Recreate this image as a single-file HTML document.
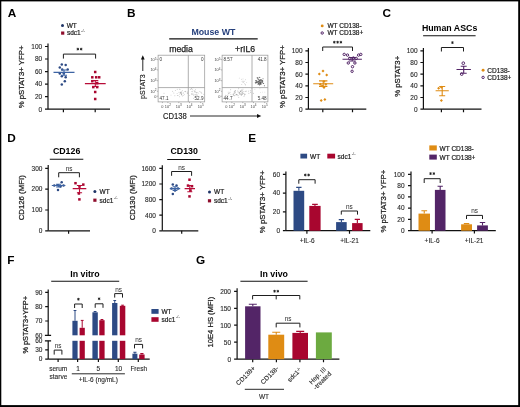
<!DOCTYPE html>
<html><head><meta charset="utf-8">
<style>
html,body{margin:0;padding:0;background:#fff;}
svg{display:block;will-change:transform;}
text{font-family:"Liberation Sans",sans-serif;fill:#1c1c1c;}
.t{font-size:6.5px;fill:#2a2a2a;stroke:#2a2a2a;stroke-width:0.12px;}
.st{font-size:8.4px;fill:#1a1a1a;}
.ns{font-size:6.4px;fill:#2a2a2a;}
.lg{font-size:6.5px;stroke:#1c1c1c;stroke-width:0.2px;}
.lab{font-size:7.8px;stroke:#1c1c1c;stroke-width:0.25px;}
.sup{font-size:4px;fill:#333;}
.pl{font-size:11.8px;font-weight:bold;fill:#000;}
.tt{font-size:8.8px;font-weight:bold;fill:#000;}
.ft{font-size:4.6px;fill:#333;}
.fx{font-size:3.9px;fill:#444;}
.ax{stroke:#111;stroke-width:1.2;fill:none;}
.br{stroke:#1e1e1e;stroke-width:1;fill:none;}
.fb{stroke:#9a9a9a;stroke-width:0.75;fill:none;}
</style></head><body>
<svg width="520" height="407" viewBox="0 0 520 407">
<rect x="0" y="0" width="520" height="407" fill="#000"/>
<rect x="1.3" y="1.4" width="516.9" height="403.7" fill="#fff"/>

<text class="pl" x="7.7" y="17.4">A</text>
<circle cx="62.5" cy="25.6" r="1.5" fill="#1f3466"/>
<text class="lg" x="66.7" y="27.7">WT</text>
<rect x="61.1" y="31.5" width="3.2" height="3.2" fill="#8e0d2c"/>
<text class="lg" x="66.9" y="35">sdc1</text>
<text class="sup" x="81.1" y="31.7">-/-</text>
<path class="ax" d="M48,43.6V109.2"/>
<path class="ax" d="M45,46.5H48M45,59H48M45,71.6H48M45,84.1H48M45,96.7H48M45,109.2H48"/>
<text class="t" x="42.2" y="48.80" text-anchor="end">100</text>
<text class="t" x="42.2" y="61.30" text-anchor="end">80</text>
<text class="t" x="42.2" y="73.90" text-anchor="end">60</text>
<text class="t" x="42.2" y="86.40" text-anchor="end">40</text>
<text class="t" x="42.2" y="99.00" text-anchor="end">20</text>
<text class="t" x="42.2" y="111.50" text-anchor="end">0</text>
<path class="ax" d="M48,109.2H110"/>
<path class="ax" d="M63.4,109.2V112.2M95.2,109.2V112.2"/>
<text class="lab" style="font-size:7.8px" transform="translate(24.33,76.9) rotate(-90)" text-anchor="middle">% pSTAT3+ YFP+</text>
<path class="br" d="M63.4,58.6V54.1H95.6V58.6"/>
<path d="M77.85,47.75V50.45M76.68,48.43L79.02,49.77M76.68,49.77L79.02,48.43M81.15,47.75V50.45M79.98,48.43L82.32,49.77M79.98,49.77L82.32,48.43" stroke="#1a1a1a" stroke-width="0.85" fill="none"/>
<circle cx="61.8" cy="64.5" r="1.25" fill="#2d4a84"/>
<circle cx="65.7" cy="64.9" r="1.25" fill="#2d4a84"/>
<circle cx="59.8" cy="67.5" r="1.25" fill="#2d4a84"/>
<circle cx="62.2" cy="69.4" r="1.25" fill="#2d4a84"/>
<circle cx="67.7" cy="69.4" r="1.25" fill="#2d4a84"/>
<circle cx="59.8" cy="73.4" r="1.25" fill="#2d4a84"/>
<circle cx="63.8" cy="73.4" r="1.25" fill="#2d4a84"/>
<circle cx="61.8" cy="76.3" r="1.25" fill="#2d4a84"/>
<circle cx="65.7" cy="77.3" r="1.25" fill="#2d4a84"/>
<circle cx="64.8" cy="81.2" r="1.25" fill="#2d4a84"/>
<circle cx="61.8" cy="84.6" r="1.25" fill="#2d4a84"/>
<path d="M53.5,72.4H74.5M64,70V75.3M61,70H67M61,75.3H67" stroke="#3d64a4" stroke-width="1.1" fill="none"/>
<rect x="93.95" y="70.75" width="2.5" height="2.5" fill="#a8062f"/>
<rect x="91.05" y="76.05" width="2.5" height="2.5" fill="#a8062f"/>
<rect x="94.95" y="76.05" width="2.5" height="2.5" fill="#a8062f"/>
<rect x="97.95" y="76.05" width="2.5" height="2.5" fill="#a8062f"/>
<rect x="91.05" y="79.95" width="2.5" height="2.5" fill="#a8062f"/>
<rect x="95.95" y="81.95" width="2.5" height="2.5" fill="#a8062f"/>
<rect x="92.05" y="85.85" width="2.5" height="2.5" fill="#a8062f"/>
<rect x="95.95" y="85.85" width="2.5" height="2.5" fill="#a8062f"/>
<rect x="93.95" y="90.75" width="2.5" height="2.5" fill="#a8062f"/>
<rect x="93.95" y="97.75" width="2.5" height="2.5" fill="#a8062f"/>
<path d="M84.89999999999999,83.6H105.7M95.3,80.6V86.5M92.3,80.6H98.3M92.3,86.5H98.3" stroke="#b80c38" stroke-width="1.1" fill="none"/>
<text class="pl" x="126.9" y="17.4">B</text>
<text class="tt" x="213.4" y="34.9" text-anchor="middle" style="fill:#26407c">Mouse WT</text>
<path d="M169.2,38.9H257.7" stroke="#111" stroke-width="1.1"/>
<text class="lab" x="181" y="51.6" text-anchor="middle" style="font-size:8.7px">media</text>
<text class="lab" x="245.1" y="51.6" text-anchor="middle" style="font-size:8.7px">+rIL6</text>
<rect x="158.1" y="55.2" width="46.60" height="46.70" class="fb"/>
<path d="M188.3,55.2V101.9M158.1,87.6H204.7" stroke="#9a9a9a" stroke-width="0.8"/>
<text class="fx" x="156.50" y="61.00" text-anchor="end">10<tspan dy='-1.4' style='font-size:3.1px'>5</tspan></text>
<path d="M156.90,59.6H158.1" stroke="#777" stroke-width="0.5"/>
<text class="fx" x="156.50" y="71.30" text-anchor="end">10<tspan dy='-1.4' style='font-size:3.1px'>4</tspan></text>
<path d="M156.90,69.9H158.1" stroke="#777" stroke-width="0.5"/>
<text class="fx" x="156.50" y="82.10" text-anchor="end">10<tspan dy='-1.4' style='font-size:3.1px'>3</tspan></text>
<path d="M156.90,80.7H158.1" stroke="#777" stroke-width="0.5"/>
<text class="fx" x="156.50" y="92.70" text-anchor="end">10<tspan dy='-1.4' style='font-size:3.1px'>2</tspan></text>
<path d="M156.90,91.3H158.1" stroke="#777" stroke-width="0.5"/>
<text class="fx" x="156.50" y="97.60" text-anchor="end">0</text>
<path d="M156.90,96.2H158.1" stroke="#777" stroke-width="0.5"/>
<text class="fx" x="162.40" y="107.6" text-anchor="middle">0</text>
<path d="M162.40,101.9V103.10" stroke="#777" stroke-width="0.5"/>
<text class="fx" x="167.90" y="107.6" text-anchor="middle">10<tspan dy='-1.4' style='font-size:3.1px'>2</tspan></text>
<path d="M167.90,101.9V103.10" stroke="#777" stroke-width="0.5"/>
<text class="fx" x="178.80" y="107.6" text-anchor="middle">10<tspan dy='-1.4' style='font-size:3.1px'>3</tspan></text>
<path d="M178.80,101.9V103.10" stroke="#777" stroke-width="0.5"/>
<text class="fx" x="189.50" y="107.6" text-anchor="middle">10<tspan dy='-1.4' style='font-size:3.1px'>4</tspan></text>
<path d="M189.50,101.9V103.10" stroke="#777" stroke-width="0.5"/>
<text class="fx" x="200.70" y="107.6" text-anchor="middle">10<tspan dy='-1.4' style='font-size:3.1px'>5</tspan></text>
<path d="M200.70,101.9V103.10" stroke="#777" stroke-width="0.5"/>
<text class="ft" x="159.50" y="60.80">0</text>
<text class="ft" x="203.50" y="60.80" text-anchor="end">0</text>
<text class="ft" x="159.50" y="100.40">47.1</text>
<text class="ft" x="203.50" y="100.40" text-anchor="end">52.9</text>
<rect x="222.1" y="55.2" width="45.80" height="46.70" class="fb"/>
<path d="M252.0,55.2V101.9M222.1,87.6H267.9" stroke="#9a9a9a" stroke-width="0.8"/>
<text class="fx" x="220.50" y="61.00" text-anchor="end">10<tspan dy='-1.4' style='font-size:3.1px'>5</tspan></text>
<path d="M220.90,59.6H222.1" stroke="#777" stroke-width="0.5"/>
<text class="fx" x="220.50" y="71.30" text-anchor="end">10<tspan dy='-1.4' style='font-size:3.1px'>4</tspan></text>
<path d="M220.90,69.9H222.1" stroke="#777" stroke-width="0.5"/>
<text class="fx" x="220.50" y="82.10" text-anchor="end">10<tspan dy='-1.4' style='font-size:3.1px'>3</tspan></text>
<path d="M220.90,80.7H222.1" stroke="#777" stroke-width="0.5"/>
<text class="fx" x="220.50" y="92.70" text-anchor="end">10<tspan dy='-1.4' style='font-size:3.1px'>2</tspan></text>
<path d="M220.90,91.3H222.1" stroke="#777" stroke-width="0.5"/>
<text class="fx" x="220.50" y="97.60" text-anchor="end">0</text>
<path d="M220.90,96.2H222.1" stroke="#777" stroke-width="0.5"/>
<text class="fx" x="226.40" y="107.6" text-anchor="middle">0</text>
<path d="M226.40,101.9V103.10" stroke="#777" stroke-width="0.5"/>
<text class="fx" x="231.90" y="107.6" text-anchor="middle">10<tspan dy='-1.4' style='font-size:3.1px'>2</tspan></text>
<path d="M231.90,101.9V103.10" stroke="#777" stroke-width="0.5"/>
<text class="fx" x="242.80" y="107.6" text-anchor="middle">10<tspan dy='-1.4' style='font-size:3.1px'>3</tspan></text>
<path d="M242.80,101.9V103.10" stroke="#777" stroke-width="0.5"/>
<text class="fx" x="253.50" y="107.6" text-anchor="middle">10<tspan dy='-1.4' style='font-size:3.1px'>4</tspan></text>
<path d="M253.50,101.9V103.10" stroke="#777" stroke-width="0.5"/>
<text class="fx" x="264.70" y="107.6" text-anchor="middle">10<tspan dy='-1.4' style='font-size:3.1px'>5</tspan></text>
<path d="M264.70,101.9V103.10" stroke="#777" stroke-width="0.5"/>
<text class="ft" x="223.50" y="60.80">8.57</text>
<text class="ft" x="266.70" y="60.80" text-anchor="end">41.8</text>
<text class="ft" x="223.50" y="100.40">44.7</text>
<text class="ft" x="266.70" y="100.40" text-anchor="end">5.48</text>
<circle cx="182.5" cy="96.0" r="0.45" fill="#999" opacity="0.8"/>
<circle cx="177.3" cy="95.5" r="0.45" fill="#999" opacity="0.8"/>
<circle cx="180.7" cy="93.0" r="0.45" fill="#999" opacity="0.8"/>
<circle cx="191.5" cy="93.8" r="0.45" fill="#999" opacity="0.8"/>
<circle cx="181.8" cy="95.0" r="0.45" fill="#999" opacity="0.8"/>
<circle cx="187.6" cy="93.4" r="0.45" fill="#999" opacity="0.8"/>
<circle cx="184.9" cy="91.6" r="0.45" fill="#999" opacity="0.8"/>
<circle cx="180.2" cy="92.6" r="0.45" fill="#999" opacity="0.8"/>
<circle cx="175.3" cy="90.5" r="0.45" fill="#999" opacity="0.8"/>
<circle cx="173.9" cy="93.0" r="0.45" fill="#999" opacity="0.8"/>
<circle cx="181.1" cy="92.9" r="0.45" fill="#999" opacity="0.8"/>
<circle cx="182.3" cy="90.8" r="0.45" fill="#999" opacity="0.8"/>
<circle cx="181.6" cy="94.0" r="0.45" fill="#999" opacity="0.8"/>
<circle cx="185.8" cy="91.8" r="0.45" fill="#999" opacity="0.8"/>
<circle cx="180.0" cy="89.5" r="0.45" fill="#999" opacity="0.8"/>
<circle cx="179.5" cy="89.1" r="0.45" fill="#999" opacity="0.8"/>
<circle cx="174.9" cy="95.7" r="0.45" fill="#999" opacity="0.8"/>
<circle cx="171.0" cy="95.1" r="0.45" fill="#999" opacity="0.8"/>
<circle cx="183.6" cy="92.9" r="0.45" fill="#999" opacity="0.8"/>
<circle cx="184.3" cy="94.6" r="0.45" fill="#999" opacity="0.8"/>
<circle cx="187.2" cy="93.0" r="0.45" fill="#999" opacity="0.8"/>
<circle cx="179.0" cy="92.3" r="0.45" fill="#999" opacity="0.8"/>
<circle cx="177.1" cy="93.4" r="0.45" fill="#999" opacity="0.8"/>
<circle cx="178.1" cy="95.6" r="0.45" fill="#999" opacity="0.8"/>
<circle cx="172.7" cy="91.3" r="0.45" fill="#999" opacity="0.8"/>
<circle cx="177.2" cy="89.3" r="0.45" fill="#999" opacity="0.8"/>
<circle cx="191.5" cy="88.7" r="0.45" fill="#999" opacity="0.8"/>
<circle cx="180.6" cy="92.4" r="0.45" fill="#999" opacity="0.8"/>
<circle cx="190.3" cy="89.5" r="0.45" fill="#999" opacity="0.8"/>
<circle cx="187.4" cy="92.0" r="0.45" fill="#999" opacity="0.8"/>
<circle cx="181.2" cy="92.2" r="0.45" fill="#999" opacity="0.8"/>
<circle cx="185.2" cy="91.2" r="0.45" fill="#999" opacity="0.8"/>
<circle cx="181.6" cy="94.2" r="0.45" fill="#999" opacity="0.8"/>
<circle cx="191.2" cy="88.7" r="0.45" fill="#999" opacity="0.8"/>
<circle cx="189.6" cy="95.4" r="0.45" fill="#999" opacity="0.8"/>
<circle cx="179.6" cy="94.1" r="0.45" fill="#999" opacity="0.8"/>
<circle cx="179.7" cy="96.8" r="0.45" fill="#999" opacity="0.8"/>
<circle cx="183.0" cy="93.1" r="0.45" fill="#999" opacity="0.8"/>
<circle cx="180.9" cy="93.1" r="0.45" fill="#999" opacity="0.8"/>
<circle cx="181.1" cy="91.7" r="0.45" fill="#999" opacity="0.8"/>
<circle cx="192.3" cy="89.7" r="0.45" fill="#999" opacity="0.8"/>
<circle cx="164.0" cy="93.3" r="0.45" fill="#999" opacity="0.8"/>
<circle cx="181.3" cy="94.2" r="0.45" fill="#999" opacity="0.8"/>
<circle cx="181.0" cy="93.2" r="0.45" fill="#999" opacity="0.8"/>
<circle cx="183.7" cy="95.4" r="0.45" fill="#999" opacity="0.8"/>
<circle cx="195.4" cy="92.1" r="0.45" fill="#999" opacity="0.8"/>
<circle cx="203.8" cy="94.2" r="0.45" fill="#999" opacity="0.8"/>
<circle cx="193.6" cy="98.3" r="0.45" fill="#999" opacity="0.8"/>
<circle cx="199.7" cy="91.6" r="0.45" fill="#999" opacity="0.8"/>
<circle cx="192.9" cy="93.7" r="0.45" fill="#999" opacity="0.8"/>
<circle cx="194.1" cy="90.6" r="0.45" fill="#999" opacity="0.8"/>
<circle cx="192.5" cy="91.8" r="0.45" fill="#999" opacity="0.8"/>
<circle cx="200.9" cy="92.0" r="0.45" fill="#999" opacity="0.8"/>
<circle cx="191.9" cy="94.5" r="0.45" fill="#999" opacity="0.8"/>
<circle cx="197.2" cy="94.9" r="0.45" fill="#999" opacity="0.8"/>
<circle cx="201.2" cy="92.6" r="0.45" fill="#999" opacity="0.8"/>
<circle cx="196.5" cy="92.9" r="0.45" fill="#999" opacity="0.8"/>
<circle cx="193.0" cy="94.5" r="0.45" fill="#999" opacity="0.8"/>
<circle cx="201.8" cy="93.4" r="0.45" fill="#999" opacity="0.8"/>
<circle cx="196.2" cy="92.4" r="0.45" fill="#999" opacity="0.8"/>
<circle cx="194.3" cy="91.2" r="0.45" fill="#999" opacity="0.8"/>
<circle cx="195.6" cy="91.1" r="0.45" fill="#999" opacity="0.8"/>
<circle cx="195.5" cy="89.4" r="0.45" fill="#999" opacity="0.8"/>
<circle cx="198.2" cy="93.1" r="0.45" fill="#999" opacity="0.8"/>
<circle cx="193.0" cy="87.7" r="0.45" fill="#999" opacity="0.8"/>
<circle cx="197.0" cy="95.5" r="0.45" fill="#999" opacity="0.8"/>
<circle cx="194.4" cy="91.9" r="0.45" fill="#999" opacity="0.8"/>
<circle cx="195.0" cy="94.5" r="0.45" fill="#999" opacity="0.8"/>
<circle cx="193.8" cy="95.3" r="0.45" fill="#999" opacity="0.8"/>
<circle cx="195.9" cy="95.1" r="0.45" fill="#999" opacity="0.8"/>
<circle cx="197.1" cy="92.5" r="0.45" fill="#999" opacity="0.8"/>
<circle cx="191.8" cy="91.4" r="0.45" fill="#999" opacity="0.8"/>
<circle cx="196.1" cy="94.5" r="0.45" fill="#999" opacity="0.8"/>
<circle cx="240.5" cy="91.5" r="0.45" fill="#888" opacity="0.8"/>
<circle cx="241.5" cy="95.2" r="0.45" fill="#888" opacity="0.8"/>
<circle cx="238.1" cy="92.0" r="0.45" fill="#888" opacity="0.8"/>
<circle cx="236.6" cy="94.8" r="0.45" fill="#888" opacity="0.8"/>
<circle cx="242.2" cy="91.0" r="0.45" fill="#888" opacity="0.8"/>
<circle cx="241.2" cy="91.9" r="0.45" fill="#888" opacity="0.8"/>
<circle cx="234.5" cy="95.7" r="0.45" fill="#888" opacity="0.8"/>
<circle cx="243.9" cy="91.4" r="0.45" fill="#888" opacity="0.8"/>
<circle cx="239.5" cy="94.1" r="0.45" fill="#888" opacity="0.8"/>
<circle cx="235.2" cy="92.7" r="0.45" fill="#888" opacity="0.8"/>
<circle cx="243.0" cy="89.1" r="0.45" fill="#888" opacity="0.8"/>
<circle cx="241.0" cy="94.6" r="0.45" fill="#888" opacity="0.8"/>
<circle cx="242.0" cy="90.0" r="0.45" fill="#888" opacity="0.8"/>
<circle cx="240.9" cy="91.1" r="0.45" fill="#888" opacity="0.8"/>
<circle cx="242.4" cy="94.3" r="0.45" fill="#888" opacity="0.8"/>
<circle cx="240.3" cy="91.3" r="0.45" fill="#888" opacity="0.8"/>
<circle cx="235.5" cy="94.9" r="0.45" fill="#888" opacity="0.8"/>
<circle cx="233.6" cy="94.1" r="0.45" fill="#888" opacity="0.8"/>
<circle cx="242.1" cy="92.4" r="0.45" fill="#888" opacity="0.8"/>
<circle cx="253.4" cy="93.2" r="0.45" fill="#888" opacity="0.8"/>
<circle cx="251.9" cy="88.6" r="0.45" fill="#888" opacity="0.8"/>
<circle cx="225.5" cy="95.2" r="0.45" fill="#888" opacity="0.8"/>
<circle cx="242.8" cy="92.3" r="0.45" fill="#888" opacity="0.8"/>
<circle cx="238.7" cy="88.8" r="0.45" fill="#888" opacity="0.8"/>
<circle cx="235.2" cy="90.7" r="0.45" fill="#888" opacity="0.8"/>
<circle cx="237.7" cy="94.9" r="0.45" fill="#888" opacity="0.8"/>
<circle cx="239.3" cy="93.8" r="0.45" fill="#888" opacity="0.8"/>
<circle cx="234.8" cy="92.0" r="0.45" fill="#888" opacity="0.8"/>
<circle cx="239.7" cy="92.4" r="0.45" fill="#888" opacity="0.8"/>
<circle cx="246.6" cy="91.1" r="0.45" fill="#888" opacity="0.8"/>
<circle cx="250.3" cy="90.8" r="0.45" fill="#888" opacity="0.8"/>
<circle cx="245.4" cy="91.3" r="0.45" fill="#888" opacity="0.8"/>
<circle cx="248.9" cy="93.3" r="0.45" fill="#888" opacity="0.8"/>
<circle cx="241.4" cy="94.6" r="0.45" fill="#888" opacity="0.8"/>
<circle cx="235.2" cy="90.7" r="0.45" fill="#888" opacity="0.8"/>
<circle cx="226.8" cy="95.7" r="0.45" fill="#888" opacity="0.8"/>
<circle cx="234.8" cy="91.7" r="0.45" fill="#888" opacity="0.8"/>
<circle cx="238.8" cy="97.4" r="0.45" fill="#888" opacity="0.8"/>
<circle cx="228.6" cy="93.5" r="0.45" fill="#888" opacity="0.8"/>
<circle cx="236.6" cy="94.2" r="0.45" fill="#888" opacity="0.8"/>
<circle cx="228.2" cy="92.1" r="0.45" fill="#888" opacity="0.8"/>
<circle cx="244.0" cy="96.4" r="0.45" fill="#888" opacity="0.8"/>
<circle cx="248.6" cy="91.1" r="0.45" fill="#888" opacity="0.8"/>
<circle cx="239.3" cy="92.8" r="0.45" fill="#888" opacity="0.8"/>
<circle cx="230.7" cy="89.8" r="0.45" fill="#888" opacity="0.8"/>
<circle cx="243.5" cy="93.5" r="0.45" fill="#888" opacity="0.8"/>
<circle cx="238.1" cy="95.7" r="0.45" fill="#888" opacity="0.8"/>
<circle cx="233.0" cy="94.2" r="0.45" fill="#888" opacity="0.8"/>
<circle cx="239.1" cy="92.9" r="0.45" fill="#888" opacity="0.8"/>
<circle cx="241.9" cy="93.4" r="0.45" fill="#888" opacity="0.8"/>
<circle cx="240.6" cy="93.6" r="0.45" fill="#888" opacity="0.8"/>
<circle cx="250.6" cy="92.3" r="0.45" fill="#888" opacity="0.8"/>
<circle cx="245.1" cy="94.3" r="0.45" fill="#888" opacity="0.8"/>
<circle cx="236.9" cy="94.8" r="0.45" fill="#888" opacity="0.8"/>
<circle cx="233.9" cy="95.6" r="0.45" fill="#888" opacity="0.8"/>
<circle cx="234.1" cy="91.9" r="0.45" fill="#888" opacity="0.8"/>
<circle cx="240.9" cy="94.8" r="0.45" fill="#888" opacity="0.8"/>
<circle cx="244.4" cy="95.0" r="0.45" fill="#888" opacity="0.8"/>
<circle cx="237.8" cy="90.9" r="0.45" fill="#888" opacity="0.8"/>
<circle cx="242.3" cy="93.7" r="0.45" fill="#888" opacity="0.8"/>
<circle cx="233.3" cy="95.1" r="0.45" fill="#888" opacity="0.8"/>
<circle cx="240.2" cy="90.9" r="0.45" fill="#888" opacity="0.8"/>
<circle cx="241.6" cy="90.1" r="0.45" fill="#888" opacity="0.8"/>
<circle cx="233.7" cy="93.9" r="0.45" fill="#888" opacity="0.8"/>
<circle cx="229.7" cy="93.1" r="0.45" fill="#888" opacity="0.8"/>
<circle cx="230.9" cy="94.6" r="0.45" fill="#888" opacity="0.8"/>
<circle cx="234.6" cy="93.4" r="0.45" fill="#888" opacity="0.8"/>
<circle cx="230.0" cy="92.2" r="0.45" fill="#888" opacity="0.8"/>
<circle cx="244.7" cy="94.0" r="0.45" fill="#888" opacity="0.8"/>
<circle cx="228.0" cy="95.0" r="0.45" fill="#888" opacity="0.8"/>
<circle cx="244.2" cy="81.2" r="0.45" fill="#aaa" opacity="0.8"/>
<circle cx="245.5" cy="79.7" r="0.45" fill="#aaa" opacity="0.8"/>
<circle cx="241.8" cy="84.5" r="0.45" fill="#aaa" opacity="0.8"/>
<circle cx="245.3" cy="84.8" r="0.45" fill="#aaa" opacity="0.8"/>
<circle cx="239.3" cy="78.1" r="0.45" fill="#aaa" opacity="0.8"/>
<circle cx="243.0" cy="78.9" r="0.45" fill="#aaa" opacity="0.8"/>
<circle cx="241.7" cy="79.2" r="0.45" fill="#aaa" opacity="0.8"/>
<circle cx="244.7" cy="83.8" r="0.45" fill="#aaa" opacity="0.8"/>
<circle cx="243.4" cy="82.0" r="0.45" fill="#aaa" opacity="0.8"/>
<circle cx="242.1" cy="81.3" r="0.45" fill="#aaa" opacity="0.8"/>
<circle cx="243.0" cy="82.5" r="0.45" fill="#aaa" opacity="0.8"/>
<circle cx="243.1" cy="81.1" r="0.45" fill="#aaa" opacity="0.8"/>
<circle cx="246.7" cy="82.6" r="0.45" fill="#aaa" opacity="0.8"/>
<circle cx="245.5" cy="84.9" r="0.45" fill="#aaa" opacity="0.8"/>
<circle cx="257.7" cy="78.7" r="0.5" fill="#444" opacity="0.85"/>
<circle cx="262.8" cy="80.9" r="0.5" fill="#444" opacity="0.85"/>
<circle cx="260.0" cy="81.2" r="0.5" fill="#444" opacity="0.85"/>
<circle cx="260.1" cy="79.6" r="0.5" fill="#444" opacity="0.85"/>
<circle cx="259.6" cy="80.8" r="0.5" fill="#444" opacity="0.85"/>
<circle cx="259.8" cy="77.6" r="0.5" fill="#444" opacity="0.85"/>
<circle cx="261.8" cy="82.2" r="0.5" fill="#444" opacity="0.85"/>
<circle cx="255.7" cy="80.4" r="0.5" fill="#444" opacity="0.85"/>
<circle cx="259.9" cy="82.7" r="0.5" fill="#444" opacity="0.85"/>
<circle cx="259.8" cy="84.0" r="0.5" fill="#444" opacity="0.85"/>
<circle cx="259.9" cy="79.9" r="0.5" fill="#444" opacity="0.85"/>
<circle cx="258.2" cy="82.9" r="0.5" fill="#444" opacity="0.85"/>
<circle cx="258.3" cy="83.0" r="0.5" fill="#444" opacity="0.85"/>
<circle cx="262.2" cy="82.6" r="0.5" fill="#444" opacity="0.85"/>
<circle cx="262.2" cy="81.3" r="0.5" fill="#444" opacity="0.85"/>
<circle cx="259.8" cy="80.6" r="0.5" fill="#444" opacity="0.85"/>
<circle cx="258.3" cy="78.9" r="0.5" fill="#444" opacity="0.85"/>
<circle cx="258.5" cy="79.8" r="0.5" fill="#444" opacity="0.85"/>
<circle cx="256.4" cy="81.8" r="0.5" fill="#444" opacity="0.85"/>
<circle cx="260.9" cy="81.0" r="0.5" fill="#444" opacity="0.85"/>
<circle cx="263.1" cy="83.2" r="0.5" fill="#444" opacity="0.85"/>
<circle cx="262.3" cy="80.6" r="0.5" fill="#444" opacity="0.85"/>
<circle cx="256.2" cy="82.5" r="0.5" fill="#444" opacity="0.85"/>
<circle cx="260.5" cy="82.8" r="0.5" fill="#444" opacity="0.85"/>
<circle cx="260.8" cy="83.7" r="0.5" fill="#444" opacity="0.85"/>
<circle cx="259.1" cy="82.7" r="0.5" fill="#444" opacity="0.85"/>
<circle cx="257.7" cy="77.7" r="0.5" fill="#444" opacity="0.85"/>
<circle cx="258.7" cy="84.1" r="0.5" fill="#444" opacity="0.85"/>
<circle cx="255.8" cy="83.3" r="0.5" fill="#444" opacity="0.85"/>
<circle cx="258.2" cy="80.9" r="0.5" fill="#444" opacity="0.85"/>
<circle cx="259.9" cy="82.0" r="0.5" fill="#444" opacity="0.85"/>
<circle cx="257.5" cy="81.8" r="0.5" fill="#444" opacity="0.85"/>
<circle cx="260.9" cy="83.0" r="0.5" fill="#444" opacity="0.85"/>
<circle cx="258.0" cy="84.2" r="0.5" fill="#444" opacity="0.85"/>
<circle cx="264.4" cy="85.7" r="0.5" fill="#444" opacity="0.85"/>
<circle cx="256.6" cy="81.9" r="0.5" fill="#444" opacity="0.85"/>
<circle cx="255.3" cy="82.2" r="0.5" fill="#444" opacity="0.85"/>
<circle cx="261.1" cy="79.6" r="0.5" fill="#444" opacity="0.85"/>
<circle cx="256.0" cy="81.9" r="0.5" fill="#444" opacity="0.85"/>
<circle cx="261.3" cy="80.3" r="0.5" fill="#444" opacity="0.85"/>
<circle cx="259.2" cy="77.3" r="0.5" fill="#444" opacity="0.85"/>
<circle cx="258.1" cy="81.8" r="0.5" fill="#444" opacity="0.85"/>
<circle cx="260.2" cy="84.3" r="0.5" fill="#444" opacity="0.85"/>
<circle cx="257.1" cy="77.8" r="0.5" fill="#444" opacity="0.85"/>
<circle cx="260.9" cy="80.6" r="0.5" fill="#444" opacity="0.85"/>
<circle cx="260.5" cy="82.8" r="0.5" fill="#444" opacity="0.85"/>
<circle cx="261.2" cy="84.1" r="0.5" fill="#444" opacity="0.85"/>
<circle cx="263.0" cy="78.8" r="0.5" fill="#444" opacity="0.85"/>
<circle cx="259.6" cy="85.0" r="0.5" fill="#444" opacity="0.85"/>
<circle cx="258.8" cy="83.2" r="0.5" fill="#444" opacity="0.85"/>
<circle cx="259.7" cy="80.9" r="0.5" fill="#444" opacity="0.85"/>
<circle cx="263.6" cy="83.4" r="0.5" fill="#444" opacity="0.85"/>
<circle cx="259.2" cy="83.1" r="0.5" fill="#444" opacity="0.85"/>
<circle cx="256.6" cy="80.4" r="0.5" fill="#444" opacity="0.85"/>
<circle cx="262.0" cy="81.7" r="0.5" fill="#444" opacity="0.85"/>
<circle cx="257.3" cy="82.4" r="0.5" fill="#444" opacity="0.85"/>
<circle cx="260.6" cy="83.8" r="0.5" fill="#444" opacity="0.85"/>
<circle cx="262.1" cy="81.1" r="0.5" fill="#444" opacity="0.85"/>
<circle cx="258.6" cy="81.4" r="0.5" fill="#444" opacity="0.85"/>
<circle cx="259.2" cy="84.1" r="0.5" fill="#444" opacity="0.85"/>
<circle cx="265.4" cy="96.4" r="0.45" fill="#bbb" opacity="0.8"/>
<circle cx="260.5" cy="92.4" r="0.45" fill="#bbb" opacity="0.8"/>
<circle cx="262.6" cy="92.1" r="0.45" fill="#bbb" opacity="0.8"/>
<circle cx="259.9" cy="88.8" r="0.45" fill="#bbb" opacity="0.8"/>
<circle cx="257.3" cy="96.6" r="0.45" fill="#bbb" opacity="0.8"/>
<circle cx="254.9" cy="89.3" r="0.45" fill="#bbb" opacity="0.8"/>
<circle cx="258.3" cy="97.2" r="0.45" fill="#bbb" opacity="0.8"/>
<circle cx="264.8" cy="92.1" r="0.45" fill="#bbb" opacity="0.8"/>
<text class="lab" transform="translate(144.9,86.6) rotate(-90)" text-anchor="middle" style="font-size:6.8px;fill:#222;stroke:#222;stroke-width:0.15" textLength="24.6" lengthAdjust="spacingAndGlyphs">pSTAT3</text>
<path d="M142.8,71V57" stroke="#111" stroke-width="0.9"/><path d="M140.9,59.5L142.8,55.3L144.7,59.5Z" fill="#111"/>
<text class="lab" x="174.8" y="118.5" text-anchor="middle" style="font-size:8.2px;fill:#222;stroke:#222;stroke-width:0.15" textLength="23.8" lengthAdjust="spacingAndGlyphs">CD138</text>
<path d="M190,116H258" stroke="#111" stroke-width="0.9"/><path d="M257,114.1L261.3,116L257,117.9Z" fill="#111"/>
<path class="ax" d="M308.4,48.1V109.2"/>
<path class="ax" d="M305.4,50.8H308.4M305.4,62.5H308.4M305.4,74.2H308.4M305.4,85.8H308.4M305.4,97.5H308.4M305.4,109.2H308.4"/>
<text class="t" x="302.59999999999997" y="53.10" text-anchor="end">100</text>
<text class="t" x="302.59999999999997" y="64.80" text-anchor="end">80</text>
<text class="t" x="302.59999999999997" y="76.50" text-anchor="end">60</text>
<text class="t" x="302.59999999999997" y="88.10" text-anchor="end">40</text>
<text class="t" x="302.59999999999997" y="99.80" text-anchor="end">20</text>
<text class="t" x="302.59999999999997" y="111.50" text-anchor="end">0</text>
<path class="ax" d="M308.4,109.2H366.3"/>
<path class="ax" d="M322.8,109.2V112.2M352.5,109.2V112.2"/>
<text class="lab" style="font-size:7.8px" transform="translate(284.93,76.6) rotate(-90)" text-anchor="middle">% pSTAT3+ YFP+</text>
<circle cx="322.2" cy="25.9" r="1.45" fill="#df8c14"/>
<text class="lg" x="327.4" y="28.2">WT CD138-</text>
<circle cx="322.2" cy="33" r="1.2" fill="none" stroke="#532567" stroke-width="1"/>
<text class="lg" x="327.4" y="35.1">WT CD138+</text>
<path class="br" d="M322.7,51V47H352.5V51"/>
<path d="M334.30,40.85V43.55M333.13,41.53L335.47,42.88M333.13,42.88L335.47,41.53M337.60,40.85V43.55M336.43,41.53L338.77,42.88M336.43,42.88L338.77,41.53M340.90,40.85V43.55M339.73,41.53L342.07,42.88M339.73,42.88L342.07,41.53" stroke="#1a1a1a" stroke-width="0.85" fill="none"/>
<path d="M323,69.5L324.5,71L323,72.5L321.5,71Z" fill="#df8c14"/>
<path d="M319.3,72.6L320.8,74.1L319.3,75.6L317.8,74.1Z" fill="#df8c14"/>
<path d="M326.7,73.5L328.2,75L326.7,76.5L325.2,75Z" fill="#df8c14"/>
<path d="M324,79.9L325.5,81.4L324,82.9L322.5,81.4Z" fill="#df8c14"/>
<path d="M320.3,82.7L321.8,84.2L320.3,85.7L318.8,84.2Z" fill="#df8c14"/>
<path d="M325.8,82.7L327.3,84.2L325.8,85.7L324.3,84.2Z" fill="#df8c14"/>
<path d="M322.1,84.5L323.6,86L322.1,87.5L320.6,86Z" fill="#df8c14"/>
<path d="M324,86.0L325.5,87.5L324,89.0L322.5,87.5Z" fill="#df8c14"/>
<path d="M321.2,98.9L322.7,100.4L321.2,101.9L319.7,100.4Z" fill="#df8c14"/>
<path d="M324.9,98.0L326.4,99.5L324.9,101.0L323.4,99.5Z" fill="#df8c14"/>
<path d="M313.2,83.8H333.2M323.2,80.9V86.4M319.0,80.9H327.4M319.0,86.4H327.4" stroke="#df8c14" stroke-width="1.1" fill="none"/>
<circle cx="344.2" cy="54.4" r="1.2" fill="none" stroke="#532567" stroke-width="1"/>
<circle cx="347.5" cy="55.1" r="1.2" fill="none" stroke="#532567" stroke-width="1"/>
<circle cx="358.6" cy="55.1" r="1.2" fill="none" stroke="#532567" stroke-width="1"/>
<circle cx="360.8" cy="54.4" r="1.2" fill="none" stroke="#532567" stroke-width="1"/>
<circle cx="349.7" cy="58.4" r="1.2" fill="none" stroke="#532567" stroke-width="1"/>
<circle cx="353.4" cy="58" r="1.2" fill="none" stroke="#532567" stroke-width="1"/>
<circle cx="356.2" cy="58.4" r="1.2" fill="none" stroke="#532567" stroke-width="1"/>
<circle cx="348.3" cy="63" r="1.2" fill="none" stroke="#532567" stroke-width="1"/>
<circle cx="354.9" cy="63" r="1.2" fill="none" stroke="#532567" stroke-width="1"/>
<circle cx="352.5" cy="66.7" r="1.2" fill="none" stroke="#532567" stroke-width="1"/>
<circle cx="352.1" cy="71.3" r="1.2" fill="none" stroke="#532567" stroke-width="1"/>
<path d="M342.5,59.3H361.9M352.2,57.5V61M348.7,57.5H355.7M348.7,61H355.7" stroke="#532567" stroke-width="1.1" fill="none"/>
<text class="pl" x="382.6" y="17.4">C</text>
<text class="tt" x="449.6" y="31" text-anchor="middle">Human ASCs</text>
<path d="M423.1,35.8H475.6" stroke="#111" stroke-width="1.1"/>
<path class="ax" d="M423.4,48.1V109.2"/>
<path class="ax" d="M420.4,50.8H423.4M420.4,62.5H423.4M420.4,74.2H423.4M420.4,85.8H423.4M420.4,97.5H423.4M420.4,109.2H423.4"/>
<text class="t" x="417.59999999999997" y="53.10" text-anchor="end">100</text>
<text class="t" x="417.59999999999997" y="64.80" text-anchor="end">80</text>
<text class="t" x="417.59999999999997" y="76.50" text-anchor="end">60</text>
<text class="t" x="417.59999999999997" y="88.10" text-anchor="end">40</text>
<text class="t" x="417.59999999999997" y="99.80" text-anchor="end">20</text>
<text class="t" x="417.59999999999997" y="111.50" text-anchor="end">0</text>
<path class="ax" d="M423.4,109.2H481.5"/>
<path class="ax" d="M441.4,109.2V112.2M463.5,109.2V112.2"/>
<text class="lab" style="font-size:7.8px" transform="translate(399.83,76.3) rotate(-90)" text-anchor="middle">% pSTAT3+</text>
<path class="br" d="M441.4,51.5V47.5H463.5V51.5"/>
<path d="M452.45,41.25V43.95M451.28,41.93L453.62,43.27M451.28,43.27L453.62,41.93" stroke="#1a1a1a" stroke-width="0.85" fill="none"/>
<path d="M441.4,85.7L442.9,87.2L441.4,88.7L439.9,87.2Z" fill="#df8c14"/>
<path d="M441.4,99.0L442.9,100.5L441.4,102.0L439.9,100.5Z" fill="#df8c14"/>
<path d="M438.6,86.7L440.1,88.2L438.6,89.7L437.1,88.2Z" fill="#df8c14"/>
<path d="M435.59999999999997,90.7H448.8M442.2,86.5V95.8M439.2,86.5H445.2M439.2,95.8H445.2" stroke="#df8c14" stroke-width="1.1" fill="none"/>
<circle cx="463.3" cy="63.2" r="1.35" fill="none" stroke="#532567" stroke-width="1"/>
<circle cx="461.7" cy="74.1" r="1.35" fill="none" stroke="#532567" stroke-width="1"/>
<path d="M456.5,69.5H470.9M463.7,66.2V73.2M460.7,66.2H466.7M460.7,73.2H466.7" stroke="#532567" stroke-width="1.1" fill="none"/>
<circle cx="483.1" cy="70.2" r="1.45" fill="#df8c14"/>
<text class="lg" x="487.3" y="72.6">CD138-</text>
<circle cx="483.1" cy="77.4" r="1.2" fill="none" stroke="#532567" stroke-width="1"/>
<text class="lg" x="487.3" y="79.8">CD138+</text>
<text class="pl" x="7.3" y="141.8">D</text>
<text class="tt" x="66.6" y="154.3" text-anchor="middle">CD126</text>
<path d="M49.8,159.3H83.3" stroke="#111" stroke-width="1.1"/>
<path class="ax" d="M48.2,165V230.8"/>
<path class="ax" d="M45.2,168.3H48.2M45.2,189.1H48.2M45.2,210H48.2M45.2,230.8H48.2"/>
<text class="t" x="42.400000000000006" y="170.60" text-anchor="end">300</text>
<text class="t" x="42.400000000000006" y="191.40" text-anchor="end">200</text>
<text class="t" x="42.400000000000006" y="212.30" text-anchor="end">100</text>
<text class="t" x="42.400000000000006" y="233.10" text-anchor="end">0</text>
<path class="ax" d="M48.2,230.8H90"/>
<path class="ax" d="M68.6,230.8V233.8"/>
<text class="lab" style="font-size:7.8px" transform="translate(23.93,197.8) rotate(-90)" text-anchor="middle">CD126 (MFI)</text>
<path class="br" d="M58.7,177.3V172.7H79.4V177.3"/>
<text class="ns" x="69.05" y="170.8" text-anchor="middle">ns</text>
<circle cx="54.3" cy="185.5" r="1.25" fill="#2d4a84"/>
<circle cx="57.5" cy="185.2" r="1.25" fill="#2d4a84"/>
<circle cx="61.7" cy="182.3" r="1.25" fill="#2d4a84"/>
<circle cx="63.5" cy="185.5" r="1.25" fill="#2d4a84"/>
<circle cx="58" cy="189.9" r="1.25" fill="#2d4a84"/>
<circle cx="60.5" cy="186.5" r="1.25" fill="#2d4a84"/>
<path d="M51.800000000000004,185.5H65.4M58.6,184.2V187M56.1,184.2H61.1M56.1,187H61.1" stroke="#3d64a4" stroke-width="1.1" fill="none"/>
<rect x="74.25" y="181.95" width="2.5" height="2.5" fill="#a8062f"/>
<rect x="82.05" y="183.35" width="2.5" height="2.5" fill="#a8062f"/>
<rect x="78.25" y="185.25" width="2.5" height="2.5" fill="#a8062f"/>
<rect x="77.65" y="192.25" width="2.5" height="2.5" fill="#a8062f"/>
<rect x="78.15" y="198.15" width="2.5" height="2.5" fill="#a8062f"/>
<path d="M72.7,188.6H86.3M79.5,185.5V192.8M76.9,185.5H82.1M76.9,192.8H82.1" stroke="#b80c38" stroke-width="1.1" fill="none"/>
<circle cx="94.9" cy="191.6" r="1.5" fill="#1f3466"/>
<text class="lg" x="99.6" y="194">WT</text>
<rect x="93.3" y="198.6" width="3.2" height="3.2" fill="#8e0d2c"/>
<text class="lg" x="99.6" y="202.6">sdc1</text>
<text class="sup" x="113.9" y="199.3">-/-</text>
<text class="tt" x="184.2" y="154.3" text-anchor="middle">CD130</text>
<path d="M167.2,159.5H200.6" stroke="#111" stroke-width="1.1"/>
<path class="ax" d="M162.3,165.2V230.8"/>
<path class="ax" d="M159.3,168.4H162.3M159.3,184H162.3M159.3,199.6H162.3M159.3,215.2H162.3M159.3,230.8H162.3"/>
<text class="t" x="155.9" y="170.70" text-anchor="end">1600</text>
<text class="t" x="155.9" y="186.30" text-anchor="end">1200</text>
<text class="t" x="155.9" y="201.90" text-anchor="end">800</text>
<text class="t" x="155.9" y="217.50" text-anchor="end">400</text>
<text class="t" x="155.9" y="233.10" text-anchor="end">0</text>
<path class="ax" d="M162.3,230.8H198.3"/>
<path class="ax" d="M181.7,230.8V233.8"/>
<text class="lab" style="font-size:7.8px" transform="translate(135.03,197.8) rotate(-90)" text-anchor="middle">CD130 (MFI)</text>
<path class="br" d="M171.6,175.8V171.5H191.6V175.8"/>
<text class="ns" x="181.60" y="169.6" text-anchor="middle">ns</text>
<circle cx="172.8" cy="184.6" r="1.25" fill="#2d4a84"/>
<circle cx="176.5" cy="185.5" r="1.25" fill="#2d4a84"/>
<circle cx="171.5" cy="188.6" r="1.25" fill="#2d4a84"/>
<circle cx="178" cy="188.6" r="1.25" fill="#2d4a84"/>
<circle cx="175" cy="190.5" r="1.25" fill="#2d4a84"/>
<circle cx="172.8" cy="194" r="1.25" fill="#2d4a84"/>
<path d="M169.8,188.6H180.2M175,186.8V190.4M172.6,186.8H177.4M172.6,190.4H177.4" stroke="#3d64a4" stroke-width="1.1" fill="none"/>
<rect x="188.25" y="178.45" width="2.5" height="2.5" fill="#a8062f"/>
<rect x="186.75" y="184.35" width="2.5" height="2.5" fill="#a8062f"/>
<rect x="190.75" y="184.95" width="2.5" height="2.5" fill="#a8062f"/>
<rect x="189.25" y="189.25" width="2.5" height="2.5" fill="#a8062f"/>
<rect x="188.25" y="195.15" width="2.5" height="2.5" fill="#a8062f"/>
<path d="M184.60000000000002,188.6H195.0M189.8,185.5V191.8M187.3,185.5H192.3M187.3,191.8H192.3" stroke="#b80c38" stroke-width="1.1" fill="none"/>
<circle cx="209.5" cy="192" r="1.5" fill="#1f3466"/>
<text class="lg" x="214" y="194.4">WT</text>
<rect x="207.9" y="199.2" width="3.2" height="3.2" fill="#8e0d2c"/>
<text class="lg" x="214" y="203.2">sdc1</text>
<text class="sup" x="228.3" y="199.9">-/-</text>
<text class="pl" x="248.3" y="141.7">E</text>
<rect x="300.4" y="153.7" width="6.7" height="4.8" fill="#2d4a84"/>
<text class="lg" x="310" y="158.5">WT</text>
<rect x="327.3" y="153.7" width="7.8" height="4.8" fill="#a8062f"/>
<text class="lg" x="337.6" y="158.5">sdc1</text>
<text class="sup" x="351.7" y="154.9">-/-</text>
<path class="ax" d="M285.9,171.4V230.7"/>
<path class="ax" d="M282.9,174.3H285.9M282.9,193.1H285.9M282.9,211.9H285.9M282.9,230.7H285.9"/>
<text class="t" x="280.09999999999997" y="176.60" text-anchor="end">60</text>
<text class="t" x="280.09999999999997" y="195.40" text-anchor="end">40</text>
<text class="t" x="280.09999999999997" y="214.20" text-anchor="end">20</text>
<text class="t" x="280.09999999999997" y="233.00" text-anchor="end">0</text>
<path class="ax" d="M285.9,230.7H370.3"/>
<path class="ax" d="M306.9,230.7V233.7M349.5,230.7V233.7"/>
<text class="lab" style="font-size:7.8px" transform="translate(265.03,201.8) rotate(-90)" text-anchor="middle">% pSTAT3+ YFP+</text>
<rect x="293.5" y="190.8" width="10.70" height="39.90" fill="#2d4a84"/>
<path d="M298.85,190.8V187.4M296.18,187.4H301.53" stroke="#2d4a84" stroke-width="1.1" fill="none"/>
<rect x="309.3" y="205.9" width="11.30" height="24.80" fill="#a8062f"/>
<path d="M314.95,205.9V204.4M312.13,204.4H317.78" stroke="#a8062f" stroke-width="1.1" fill="none"/>
<rect x="336.1" y="222.1" width="10.60" height="8.60" fill="#2d4a84"/>
<path d="M341.40,222.1V219.6M338.75,219.6H344.05" stroke="#2d4a84" stroke-width="1.1" fill="none"/>
<rect x="352.1" y="223.1" width="10.50" height="7.60" fill="#a8062f"/>
<path d="M357.35,223.1V219.4M354.73,219.4H359.98" stroke="#a8062f" stroke-width="1.1" fill="none"/>
<path class="br" d="M298.8,183.7V179.7H315.1V183.7"/>
<path d="M305.30,173.65V176.35M304.13,174.32L306.47,175.68M304.13,175.68L306.47,174.32M308.60,173.65V176.35M307.43,174.32L309.77,175.68M307.43,175.68L309.77,174.32" stroke="#1a1a1a" stroke-width="0.85" fill="none"/>
<path class="br" d="M341.3,214.6V211H357.5V214.6"/>
<text class="ns" x="349.40" y="208.8" text-anchor="middle">ns</text>
<text class="t" x="307.2" y="243.1" text-anchor="middle">+IL-6</text>
<text class="t" x="349.5" y="243.1" text-anchor="middle">+IL-21</text>
<rect x="429.3" y="145.4" width="7.5" height="5.1" fill="#df8c14"/>
<text class="lg" x="439.6" y="150.5">WT CD138-</text>
<rect x="429.3" y="154.6" width="7.5" height="5" fill="#532567"/>
<text class="lg" x="439.6" y="159.5">WT CD138+</text>
<path class="ax" d="M411,171.4V230.6"/>
<path class="ax" d="M408,174.3H411M408,185.6H411M408,196.8H411M408,208.1H411M408,219.3H411M408,230.6H411"/>
<text class="t" x="404.6" y="176.60" text-anchor="end">100</text>
<text class="t" x="404.6" y="187.90" text-anchor="end">80</text>
<text class="t" x="404.6" y="199.10" text-anchor="end">60</text>
<text class="t" x="404.6" y="210.40" text-anchor="end">40</text>
<text class="t" x="404.6" y="221.60" text-anchor="end">20</text>
<text class="t" x="404.6" y="232.90" text-anchor="end">0</text>
<path class="ax" d="M411,230.6H495.8"/>
<path class="ax" d="M432.1,230.6V233.6M474.4,230.6V233.6"/>
<text class="lab" style="font-size:7.8px" transform="translate(386.43,201.2) rotate(-90)" text-anchor="middle">% pSTAT3+ YFP+</text>
<rect x="418.5" y="213.6" width="11.50" height="17.10" fill="#df8c14"/>
<path d="M424.25,213.6V210.8M421.38,210.8H427.12" stroke="#df8c14" stroke-width="1.1" fill="none"/>
<rect x="434.9" y="189.9" width="10.60" height="40.80" fill="#532567"/>
<path d="M440.20,189.9V186.2M437.55,186.2H442.85" stroke="#532567" stroke-width="1.1" fill="none"/>
<rect x="461.1" y="224.3" width="10.90" height="6.40" fill="#df8c14"/>
<path d="M466.55,224.3V223.6M463.83,223.6H469.27" stroke="#df8c14" stroke-width="1.1" fill="none"/>
<rect x="477.1" y="225.4" width="10.80" height="5.30" fill="#532567"/>
<path d="M482.50,225.4V222.5M479.80,222.5H485.20" stroke="#532567" stroke-width="1.1" fill="none"/>
<path class="br" d="M424.2,183V178.7H440.2V183"/>
<path d="M430.55,172.25V174.95M429.38,172.92L431.72,174.28M429.38,174.28L431.72,172.92M433.85,172.25V174.95M432.68,172.92L435.02,174.28M432.68,174.28L435.02,172.92" stroke="#1a1a1a" stroke-width="0.85" fill="none"/>
<path class="br" d="M466.5,219V215.4H482.5V219"/>
<text class="ns" x="474.50" y="213.4" text-anchor="middle">ns</text>
<text class="t" x="432.1" y="243.1" text-anchor="middle">+IL-6</text>
<text class="t" x="474.1" y="243.1" text-anchor="middle">+IL-21</text>
<text class="pl" x="7.3" y="263.6">F</text>
<text class="tt" x="85" y="276.5" text-anchor="middle">In vitro</text>
<path d="M51.2,281.2H119.2" stroke="#111" stroke-width="1.1"/>
<path class="ax" d="M48.2,289.4V335.3"/>
<path class="ax" d="M45.2,292.4H48.2M45.2,306.7H48.2M45.2,321H48.2M44.9,335.3H51.1"/>
<text class="t" x="42.4" y="294.7" text-anchor="end">90</text>
<text class="t" x="42.4" y="309.0" text-anchor="end">80</text>
<text class="t" x="42.4" y="323.3" text-anchor="end">70</text>
<text class="t" x="42.4" y="337.6" text-anchor="end">60</text>
<path class="ax" d="M48.2,340.8V359.1"/>
<path class="ax" d="M44.9,340.8H51.1M45.2,349.95H48.2M45.2,359.1H48.2"/>
<text class="t" x="42.4" y="343.1" text-anchor="end">60</text>
<text class="t" x="42.4" y="352.2" text-anchor="end">30</text>
<text class="t" x="42.4" y="361.4" text-anchor="end">0</text>
<path class="ax" d="M48.2,359.1H149.7"/>
<path class="ax" d="M58.1,359.1V362.1M77.6,359.1V362.1M98.4,359.1V362.1M118.3,359.1V362.1M138.3,359.1V362.1"/>
<text class="lab" style="font-size:7.4px" transform="translate(28.22,324.8) rotate(-90)" text-anchor="middle">% pSTAT3+YFP+</text>
<rect x="72.4" y="320.8" width="5.20" height="14.50" fill="#2d4a84"/>
<rect x="72.4" y="340.8" width="5.20" height="18.3" fill="#2d4a84"/>
<path d="M75.00,320.8V310.5M73.60,310.5H76.40" stroke="#2d4a84" stroke-width="1" fill="none"/>
<rect x="79.6" y="327.8" width="5.20" height="7.50" fill="#a8062f"/>
<rect x="79.6" y="340.8" width="5.20" height="18.3" fill="#a8062f"/>
<path d="M82.20,327.8V320.4M80.80,320.4H83.60" stroke="#a8062f" stroke-width="1" fill="none"/>
<rect x="92.4" y="312.3" width="5.40" height="23.00" fill="#2d4a84"/>
<rect x="92.4" y="340.8" width="5.40" height="18.3" fill="#2d4a84"/>
<path d="M95.10,312.3V311.5M93.70,311.5H96.50" stroke="#2d4a84" stroke-width="1" fill="none"/>
<rect x="99.3" y="320.2" width="5.30" height="15.10" fill="#a8062f"/>
<rect x="99.3" y="340.8" width="5.30" height="18.3" fill="#a8062f"/>
<path d="M101.95,320.2V319.5M100.55,319.5H103.35" stroke="#a8062f" stroke-width="1" fill="none"/>
<rect x="112.1" y="303" width="5.30" height="32.30" fill="#2d4a84"/>
<rect x="112.1" y="340.8" width="5.30" height="18.3" fill="#2d4a84"/>
<path d="M114.75,303V300.5M113.35,300.5H116.15" stroke="#2d4a84" stroke-width="1" fill="none"/>
<rect x="119.8" y="305.8" width="5.50" height="29.50" fill="#a8062f"/>
<rect x="119.8" y="340.8" width="5.50" height="18.3" fill="#a8062f"/>
<path d="M122.55,305.8V305.2M121.15,305.2H123.95" stroke="#a8062f" stroke-width="1" fill="none"/>
<rect x="132.4" y="353.7" width="5.00" height="5.40" fill="#2d4a84"/>
<path d="M134.90,353.7V352.3M133.30,352.3H136.50" stroke="#2d4a84" stroke-width="1.1" fill="none"/>
<rect x="139.2" y="354.5" width="5.40" height="4.60" fill="#a8062f"/>
<path d="M141.90,354.5V353.6M140.30,353.6H143.50" stroke="#a8062f" stroke-width="1.1" fill="none"/>
<path class="br" d="M54.2,354.6V350.1H61.9V354.6"/>
<text class="ns" x="58.05" y="347.8" text-anchor="middle">ns</text>
<path class="br" d="M74.6,308V304H82.2V308"/>
<path d="M78.40,297.85V300.55M77.23,298.52L79.57,299.88M77.23,299.88L79.57,298.52" stroke="#1a1a1a" stroke-width="0.85" fill="none"/>
<path class="br" d="M95.2,307.8V303.8H103V307.8"/>
<path d="M99.10,297.45V300.15M97.93,298.12L100.27,299.48M97.93,299.48L100.27,298.12" stroke="#1a1a1a" stroke-width="0.85" fill="none"/>
<path class="br" d="M114.7,297.6V293.6H122.5V297.6"/>
<text class="ns" x="118.60" y="291.6" text-anchor="middle">ns</text>
<path class="br" d="M134.5,348.4V344.4H142.6V348.4"/>
<text class="ns" x="138.55" y="342.4" text-anchor="middle">ns</text>
<text class="t" x="58.2" y="371.4" text-anchor="middle">serum</text>
<text class="t" x="58.4" y="378.8" text-anchor="middle">starve</text>
<text class="t" x="78.1" y="371.4" text-anchor="middle">1</text>
<text class="t" x="98.4" y="371.4" text-anchor="middle">5</text>
<text class="t" x="118.5" y="371.4" text-anchor="middle">10</text>
<text class="t" x="138.7" y="371.4" text-anchor="middle">Fresh</text>
<path d="M71.8,373.8H124.9" stroke="#111" stroke-width="0.9"/>
<text class="t" x="98.3" y="381.8" text-anchor="middle">+IL-6 (ng/mL)</text>
<rect x="151.4" y="309" width="7.2" height="4.8" fill="#2d4a84"/>
<text class="lg" x="161.4" y="313.9">WT</text>
<rect x="151.4" y="317.2" width="7.2" height="4.6" fill="#a8062f"/>
<text class="lg" x="161.6" y="321.7">sdc1</text>
<text class="sup" x="176" y="317.6">-/-</text>
<text class="pl" x="196" y="263.6">G</text>
<text class="tt" x="274" y="276.5" text-anchor="middle">In vivo</text>
<path d="M240.4,281.2H307.6" stroke="#111" stroke-width="1.1"/>
<path class="ax" d="M237.1,288.2V359.2"/>
<path class="ax" d="M234.1,291.3H237.1M234.1,308.3H237.1M234.1,325.2H237.1M234.1,342.2H237.1M234.1,359.2H237.1"/>
<text class="t" x="231" y="293.60" text-anchor="end">200</text>
<text class="t" x="231" y="310.60" text-anchor="end">150</text>
<text class="t" x="231" y="327.50" text-anchor="end">100</text>
<text class="t" x="231" y="344.50" text-anchor="end">50</text>
<text class="t" x="231" y="361.50" text-anchor="end">0</text>
<path class="ax" d="M237.1,359.2H339.4"/>
<path class="ax" d="M252.7,359.2V362.2M276.4,359.2V362.2M299.9,359.2V362.2M323.5,359.2V362.2"/>
<text class="lab" style="font-size:7.6px" transform="translate(213.28,322.1) rotate(-90)" text-anchor="middle">10E4 HS (MFI)</text>
<rect x="245.1" y="306.3" width="15.40" height="52.90" fill="#532567"/>
<path d="M252.80,306.3V304.2M248.80,304.2H256.80" stroke="#532567" stroke-width="1.1" fill="none"/>
<rect x="268.3" y="334.7" width="15.90" height="24.50" fill="#df8c14"/>
<path d="M276.25,334.7V332.3M272.25,332.3H280.25" stroke="#df8c14" stroke-width="1.1" fill="none"/>
<rect x="292.4" y="332.9" width="15.60" height="26.30" fill="#a8062f"/>
<path d="M300.20,332.9V331.4M296.20,331.4H304.20" stroke="#a8062f" stroke-width="1.1" fill="none"/>
<rect x="315.9" y="332.4" width="15.90" height="26.80" fill="#6caa40"/>
<path class="br" d="M252.6,299.4V295.5H299.8V299.4"/>
<path d="M274.55,289.85V292.55M273.38,290.52L275.72,291.88M273.38,291.88L275.72,290.52M277.85,289.85V292.55M276.68,290.52L279.02,291.88M276.68,291.88L279.02,290.52" stroke="#1a1a1a" stroke-width="0.85" fill="none"/>
<path class="br" d="M276.2,295.5V299.4"/>
<path class="br" d="M276.2,327.4V323.2H299.9V327.4"/>
<text class="ns" x="288.05" y="320.6" text-anchor="middle">ns</text>
<text class="t" transform="translate(255.6,368.8) rotate(-45)" text-anchor="end">CD138+</text>
<text class="t" transform="translate(279.1,368.8) rotate(-45)" text-anchor="end">CD138-</text>
<text class="t" transform="translate(302,370.3) rotate(-45)" text-anchor="end">sdc1<tspan dy='-2' style='font-size:3.6px'>-/-</tspan></text>
<text class="t" transform="translate(326.5,369.8) rotate(-45)" text-anchor="end">Hep. III</text>
<text class="t" transform="translate(331.7,374.3) rotate(-45)" text-anchor="end">-treated</text>
<path d="M244.8,389.3H284" stroke="#111" stroke-width="0.9"/>
<text class="t" x="264" y="398.6" text-anchor="middle">WT</text>
</svg>
</body></html>
